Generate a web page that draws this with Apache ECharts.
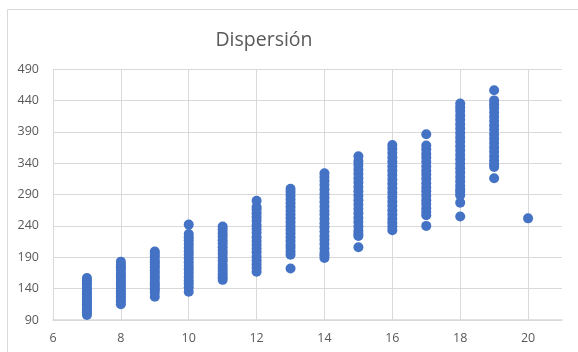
<!DOCTYPE html>
<html>
<head>
<meta charset="utf-8">
<script src="https://cdn.jsdelivr.net/npm/echarts@6/dist/echarts.min.js"></script>
<style>
  html, body { margin: 0; padding: 0; background: #ffffff; }
  #chart { width: 578px; height: 352px; }
</style>
</head>
<body>
<div id="chart"></div>
<script>
// Scatter values grouped by x (each x holds many observations)
const xValues = [7, 8, 9, 10, 11, 12, 13, 14, 15, 16, 17, 18, 19, 20];
const yAt7  = [157, 153, 149, 146, 141, 138, 134, 131, 127, 124, 121, 118, 115, 111, 108, 105, 102, 98];
const yAt8  = [183, 178, 174, 170, 165, 161, 157, 152, 148, 144, 140, 136, 132, 128, 124, 120, 115];
const yAt9  = [199, 195, 191, 186, 182, 178, 174, 169, 165, 160, 156, 151, 147, 143, 139, 134, 127];
const yAt10 = [242, 227, 222, 217, 211, 205, 199, 194, 188, 182, 176, 171, 165, 159, 153, 148, 142, 135];
const yAt11 = [239, 234, 228, 223, 217, 212, 206, 200, 195, 189, 184, 178, 173, 168, 163, 158, 154];
const yAt12 = [280, 270, 266, 260, 254, 248, 241, 235, 229, 222, 216, 210, 204, 198, 191, 185, 179, 173, 167];
const yAt13 = [299, 294, 288, 282, 276, 270, 264, 258, 252, 246, 240, 234, 228, 222, 216, 210, 205, 199, 194, 172];
const yAt14 = [324, 318, 312, 305, 298, 291, 285, 278, 271, 264, 258, 251, 244, 238, 231, 224, 218, 211, 204, 197, 193, 189];
const yAt15 = [351, 343, 337, 330, 323, 316, 309, 302, 295, 288, 281, 274, 267, 260, 253, 246, 239, 232, 227, 224, 206];
const yAt16 = [369, 363, 356, 349, 342, 335, 328, 321, 314, 307, 300, 293, 286, 279, 272, 265, 258, 251, 245, 239, 233];
const yAt17 = [386, 368, 362, 355, 349, 342, 335, 328, 322, 315, 308, 301, 295, 288, 281, 275, 268, 262, 257, 240];
const yAt18 = [435, 429, 423, 416, 409, 402, 395, 388, 381, 374, 367, 360, 353, 346, 339, 332, 325, 318, 311, 304, 298, 294, 289, 277, 255];
const yAt19 = [456, 440, 434, 428, 421, 414, 407, 400, 393, 386, 379, 372, 365, 358, 351, 344, 338, 334, 316];
const yAt20 = [252];
const yGroups = [yAt7, yAt8, yAt9, yAt10, yAt11, yAt12, yAt13, yAt14, yAt15, yAt16, yAt17, yAt18, yAt19, yAt20];

const chartTitle = 'Dispersión';

// Flatten into [x, y] pairs for the scatter series
const points = [];
xValues.forEach((x, i) => {
  yGroups[i].forEach(y => points.push([x, y]));
});

const gridColor = '#d9d9d9';
const textColor = '#595959';
const font = '"Open Sans", "Liberation Sans", sans-serif';

const chart = echarts.init(document.getElementById('chart'), null, { renderer: 'canvas' });
chart.setOption({
  animation: false,
  backgroundColor: '#ffffff',
  title: {
    text: chartTitle,
    left: 259,
    top: 25,
    textAlign: 'center',
    textStyle: { color: textColor, fontSize: 19.5, fontWeight: 'normal', fontFamily: font }
  },
  graphic: [
    { type: 'line', silent: true, shape: { x1: 7.5, y1: 9.5, x2: 7.5, y2: 360 }, style: { stroke: gridColor, lineWidth: 1 } },
    { type: 'line', silent: true, shape: { x1: 7.5, y1: 9.5, x2: 590, y2: 9.5 }, style: { stroke: gridColor, lineWidth: 1 } }
  ],
  grid: { left: 53, right: 16, top: 69, bottom: 32, containLabel: false },
  xAxis: {
    type: 'value',
    min: 6,
    max: 21,
    interval: 2,
    axisLine: { show: true, lineStyle: { color: gridColor, width: 1.5 } },
    axisTick: { show: false },
    axisLabel: { color: textColor, fontSize: 12.5, fontFamily: font, margin: 12, showMaxLabel: false },
    splitLine: { show: true, showMaxLine: false, lineStyle: { color: gridColor, width: 1 } }
  },
  yAxis: {
    type: 'value',
    min: 90,
    max: 490,
    interval: 50,
    axisLine: { show: false },
    axisTick: { show: false },
    axisLabel: { color: textColor, fontSize: 12.5, fontFamily: font, margin: 14 },
    splitLine: { show: true, lineStyle: { color: gridColor, width: 1 } }
  },
  series: [{
    type: 'scatter',
    data: points,
    symbol: 'circle',
    symbolSize: 10,
    itemStyle: { color: '#4472c4', opacity: 1 }
  }]
});
</script>
</body>
</html>
